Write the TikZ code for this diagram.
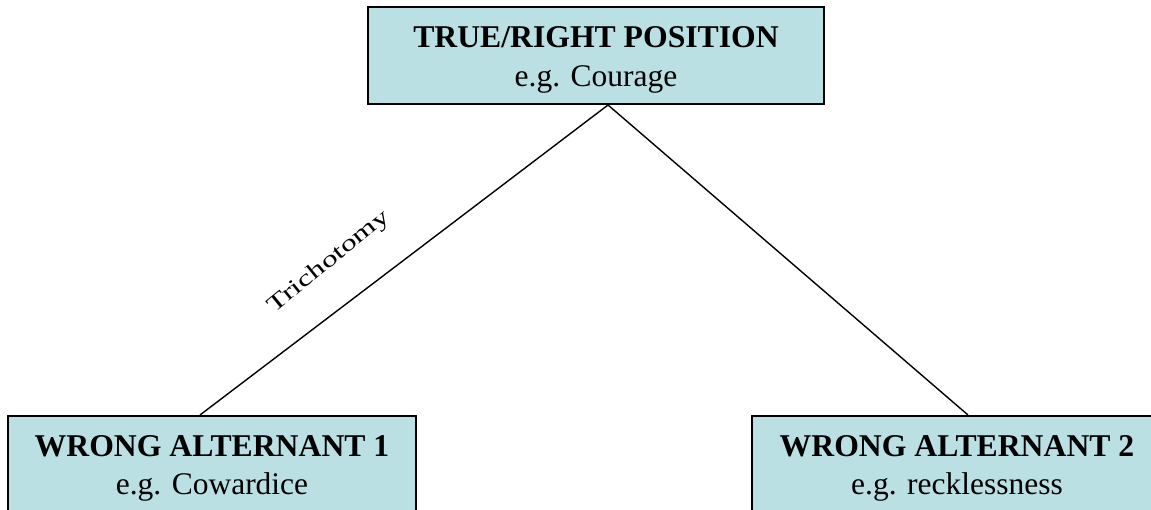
\documentclass[tikz,border=0pt]{standalone}
\usepackage{fontspec}
\setmainfont{Liberation Serif}
\definecolor{boxfill}{RGB}{187,224,227}
\begin{document}
\begin{tikzpicture}[x=1pt,y=1pt,
  box/.style={draw=black, line width=2pt, fill=boxfill, rectangle, inner sep=0pt},
  title/.style={anchor=base, inner sep=0pt, font=\fontsize{31.7}{38}\selectfont\bfseries},
  sub/.style={anchor=base, inner sep=0pt, font=\fontsize{31.5}{38}\selectfont},
  conn/.style={draw=black, line width=1.4pt}]
\useasboundingbox (0,0) rectangle (1151,-510);
\begin{scope}
\clip (0,0) rectangle (1151,-510);
\node[box, minimum width=456pt, minimum height=97pt] (top) at (596,-55.5) {};
\node[box, minimum width=408pt, minimum height=97pt] (wl) at (212,-464.5) {};
\node[box, minimum width=410pt, minimum height=97pt] (wr) at (957,-464.5) {};
\end{scope}
\node[title] (topA) at (596,-48) {TRUE/RIGHT POSITION};
\node[sub] (topB) at (596,-87) {e.g. Courage};
\node[title] (wlA) at (212,-456) {WRONG ALTERNANT 1};
\node[sub] (wlB) at (212,-494) {e.g. Cowardice};
\node[title] (wrA) at (957,-456) {WRONG ALTERNANT 2};
\node[sub] (wrB) at (957,-494) {e.g. recklessness};
\coordinate (apex) at ([xshift=12pt]top.south);
\coordinate (lend) at ([xshift=-12pt]wl.north);
\coordinate (rend) at ([xshift=11pt]wr.north);
\draw[conn] (apex) -- (lend);
\draw[conn] (apex) -- (rend);
\node[inner sep=0pt, rotate=39, font=\fontsize{22.5}{27}\selectfont, xscale=1.42] (tri) at (329,-262) {Trichotomy};
\end{tikzpicture}
\end{document}
